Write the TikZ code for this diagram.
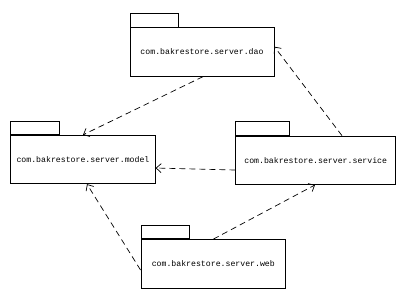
\documentclass[tikz,border=0pt]{standalone}
\usepackage{fontspec}
\setmonofont{Liberation Mono}
\usetikzlibrary{arrows.meta}
\begin{document}
\begin{tikzpicture}[x=1pt,y=-1pt,
  pkg/.style={draw,line width=0.8pt,minimum height=48.5pt,inner sep=0pt,font=\ttfamily\fontsize{8.2}{9}\selectfont},
  tabbox/.style={draw,line width=0.8pt,minimum height=13.5pt,inner sep=0pt,anchor=south west},
  dep/.style={draw,line width=0.7pt,dash pattern=on 6pt off 4pt,-{Straight Barb[length=5pt,width=9pt,line width=0.7pt]}}]
\useasboundingbox (0,0) rectangle (408,300);
\fill[white] (0,0) rectangle (408,300);
% dao
\node[pkg,minimum width=144pt] (dao) at (202,52) {com.bakrestore.server.dao};
\node[tabbox,minimum width=48pt] (daotab) at (dao.north west) {};
% model
\node[pkg,minimum width=144.5pt] (model) at (83,159.5) {com.bakrestore.server.model};
\node[tabbox,minimum width=48.5pt] (modeltab) at (model.north west) {};
% service
\node[pkg,minimum width=160pt] (service) at (315.7,160.3) {com.bakrestore.server.service};
\node[tabbox,minimum width=53.5pt] (servicetab) at (service.north west) {};
% web
\node[pkg,minimum width=144.7pt] (web) at (213.3,263.8) {com.bakrestore.server.web};
\node[tabbox,minimum width=48.3pt] (webtab) at (web.north west) {};
% dependencies
\draw[dep] ([xshift=1pt]dao.south) -- ([xshift=0pt]model.north);
\draw[dep] ([xshift=26.3pt]service.north) -- ([yshift=5.3pt]dao.east);
\draw[dep] ([yshift=-9.7pt]service.west) -- ([yshift=-8.5pt]model.east);
\draw[dep] ([yshift=-6.2pt]web.west) -- ([xshift=4pt]model.south);
\draw[dep] ([xshift=0pt]web.north) -- ([xshift=-0.7pt]service.south);
\end{tikzpicture}
\end{document}
